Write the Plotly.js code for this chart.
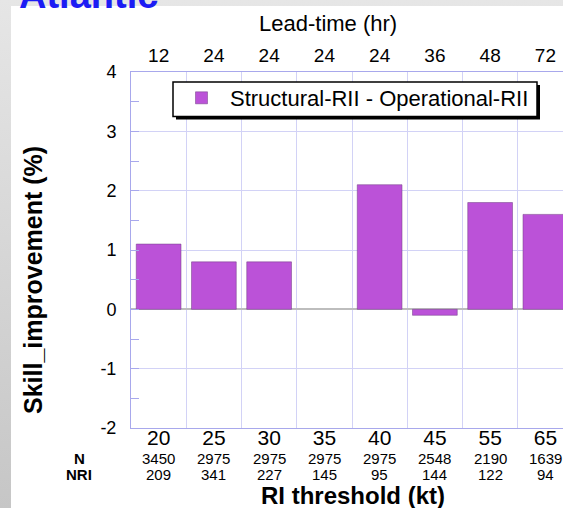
<!DOCTYPE html>
<html>
<head>
<meta charset="utf-8">
<script src="https://cdn.plot.ly/plotly-3.0.1.min.js"></script>
<style>
  html, body { margin:0; padding:0; width:563px; height:508px; overflow:hidden; }
  body { background: linear-gradient(to bottom, #e6e6e6, #c6c6c6); position:relative; }
  #white { position:absolute; left:11px; top:6px; right:0; bottom:0; background:#ffffff; }
  #chart { position:absolute; left:0; top:0; }
</style>
</head>
<body>
<div id="white"></div>
<div id="chart"></div>
<script>
// ---- data ----
const thresholds = [20, 25, 30, 35, 40, 45, 55, 65];          // RI threshold (kt)
const leadTimes  = [12, 24, 24, 24, 24, 36, 48, 72];          // Lead-time (hr)
const skillDiff  = [1.1, 0.8, 0.8, 0.0, 2.1, -0.1, 1.8, 1.6]; // Structural-RII - Operational-RII (%)
const nCount     = [3450, 2975, 2975, 2975, 2975, 2548, 2190, 1639];
const nRI        = [209, 341, 227, 145, 95, 144, 122, 94];
const yTicks     = [-2, -1, 0, 1, 2, 3, 4];
const seriesName = 'Structural-RII - Operational-RII';

// ---- layout geometry ----
const W = 583, H = 508, ML = 131, MR = 10, MT = 72, MB = 80;
const PW = W - ML - MR, PH = H - MT - MB;
const px = x => (x - ML) / PW;          // pixel -> paper x
const py = y => 1 - (y - MT) / PH;      // pixel -> paper y

const idx = thresholds.map((_, i) => i);
const bounds = thresholds.map((_, i) => i - 0.5).concat([thresholds.length - 0.5]);

const font = 'Liberation Sans, Arial, Helvetica, sans-serif';
const gridC = '#d2d2f6', lineC = '#a8a8ec';

const traces = [
  {
    type: 'bar', x: idx, y: skillDiff, name: seriesName,
    width: 0.81,
    marker: { color: '#bb52d8',
      line: { color: 'rgba(120,70,140,0.55)', width: skillDiff.map(v => v === 0 ? 0 : 1) } },
    hoverinfo: 'y'
  },
  {
    type: 'scatter', x: idx, y: skillDiff, xaxis: 'x2', mode: 'markers',
    marker: { opacity: 0 }, showlegend: false, hoverinfo: 'skip'
  }
];

const annotations = [];
annotations.push({ xref:'paper', yref:'paper', x: px(17), y: py(18), xanchor:'left', yanchor:'bottom',
  text:'<b>Atlantic</b>', showarrow:false, font:{ family: font, size: 38, color:'#1c1cf4' } });
annotations.push({ xref:'paper', yref:'paper', x: px(328), y: py(23), xanchor:'center', yanchor:'middle',
  text:'Lead-time (hr)', showarrow:false, font:{ family: font, size: 22, color:'#000' } });
annotations.push({ xref:'paper', yref:'paper', x: px(353), y: py(495), xanchor:'center', yanchor:'middle',
  text:'<b>RI threshold (kt)</b>', showarrow:false, font:{ family: font, size: 24, color:'#000' } });
annotations.push({ xref:'paper', yref:'paper', x: px(33), y: py(280), xanchor:'center', yanchor:'middle',
  text:'<b>Skill_improvement (%)</b>', textangle:-90, showarrow:false, font:{ family: font, size: 25, color:'#000' } });
annotations.push({ xref:'paper', yref:'paper', x: px(79), y: py(458), xanchor:'center', yanchor:'middle',
  text:'<b>N</b>', showarrow:false, font:{ family: font, size: 15, color:'#000' } });
annotations.push({ xref:'paper', yref:'paper', x: px(79), y: py(474), xanchor:'center', yanchor:'middle',
  text:'<b>NRI</b>', showarrow:false, font:{ family: font, size: 15, color:'#000' } });
idx.forEach(i => {
  annotations.push({ xref:'x', yref:'paper', x: i, y: py(458), xanchor:'center', yanchor:'middle',
    text: String(nCount[i]), showarrow:false, font:{ family: font, size: 15, color:'#000' } });
  annotations.push({ xref:'x', yref:'paper', x: i, y: py(474), xanchor:'center', yanchor:'middle',
    text: String(nRI[i]), showarrow:false, font:{ family: font, size: 15, color:'#000' } });
});

const layout = {
  width: W, height: H,
  margin: { l: ML, r: MR, t: MT, b: MB, pad: 0 },
  paper_bgcolor: 'rgba(0,0,0,0)', plot_bgcolor: '#ffffff',
  font: { family: font, color: '#000' },
  showlegend: true,
  legend: {
    x: px(173), y: py(77), xanchor: 'left', yanchor: 'top',
    bgcolor: 'rgba(0,0,0,0)', bordercolor: 'rgba(0,0,0,0)', borderwidth: 0,
    itemwidth: 47,
    font: { family: font, size: 22, color: '#000' }
  },
  xaxis: {
    range: [-0.5, thresholds.length - 0.5],
    tickmode: 'array', tickvals: idx, ticktext: thresholds.map(String),
    tickfont: { family: font, size: 21, color: '#000' },
    ticks: '', showgrid: false, zeroline: false,
    showline: true, linecolor: lineC, linewidth: 1,
    ticklabelstandoff: -9,
    minor: { tickmode: 'array', tickvals: bounds, showgrid: true, gridcolor: gridC, gridwidth: 1, ticks: '' },
    fixedrange: true
  },
  xaxis2: {
    overlaying: 'x', side: 'top', anchor: 'y',
    range: [-0.5, thresholds.length - 0.5],
    tickmode: 'array', tickvals: idx, ticktext: leadTimes.map(String),
    tickfont: { family: font, size: 19, color: '#000' },
    ticks: '', showgrid: false, zeroline: false,
    showline: true, linecolor: lineC, linewidth: 1,
    ticklabelstandoff: 1,
    fixedrange: true
  },
  yaxis: {
    range: [-2, 4],
    tickmode: 'array', tickvals: yTicks, ticktext: yTicks.map(String),
    tickfont: { family: font, size: 18, color: '#000' },
    ticks: 'inside', ticklen: 8, tickcolor: lineC,
    showgrid: true, gridcolor: gridC, gridwidth: 1,
    zeroline: true, zerolinecolor: '#bdbdbd', zerolinewidth: 2,
    showline: true, linecolor: lineC, linewidth: 1,
    ticklabelstandoff: 10,
    minor: { dtick: 0.5, ticks: 'inside', ticklen: 8, tickcolor: lineC, showgrid: false },
    fixedrange: true
  },
  shapes: [
    // legend shadow
    { type:'rect', xref:'paper', yref:'paper', layer:'above',
      x0: px(176), x1: px(540), y0: py(85), y1: py(119.5),
      fillcolor:'#000000', line:{ width: 0 } },
    // legend box
    { type:'rect', xref:'paper', yref:'paper', layer:'above',
      x0: px(173), x1: px(537), y0: py(82), y1: py(116.5),
      fillcolor:'#ffffff', line:{ color:'#000000', width: 1.5 } }
  ],
  annotations: annotations
};

Plotly.newPlot('chart', traces, layout, { displayModeBar: false, staticPlot: true });
</script>
</body>
</html>
